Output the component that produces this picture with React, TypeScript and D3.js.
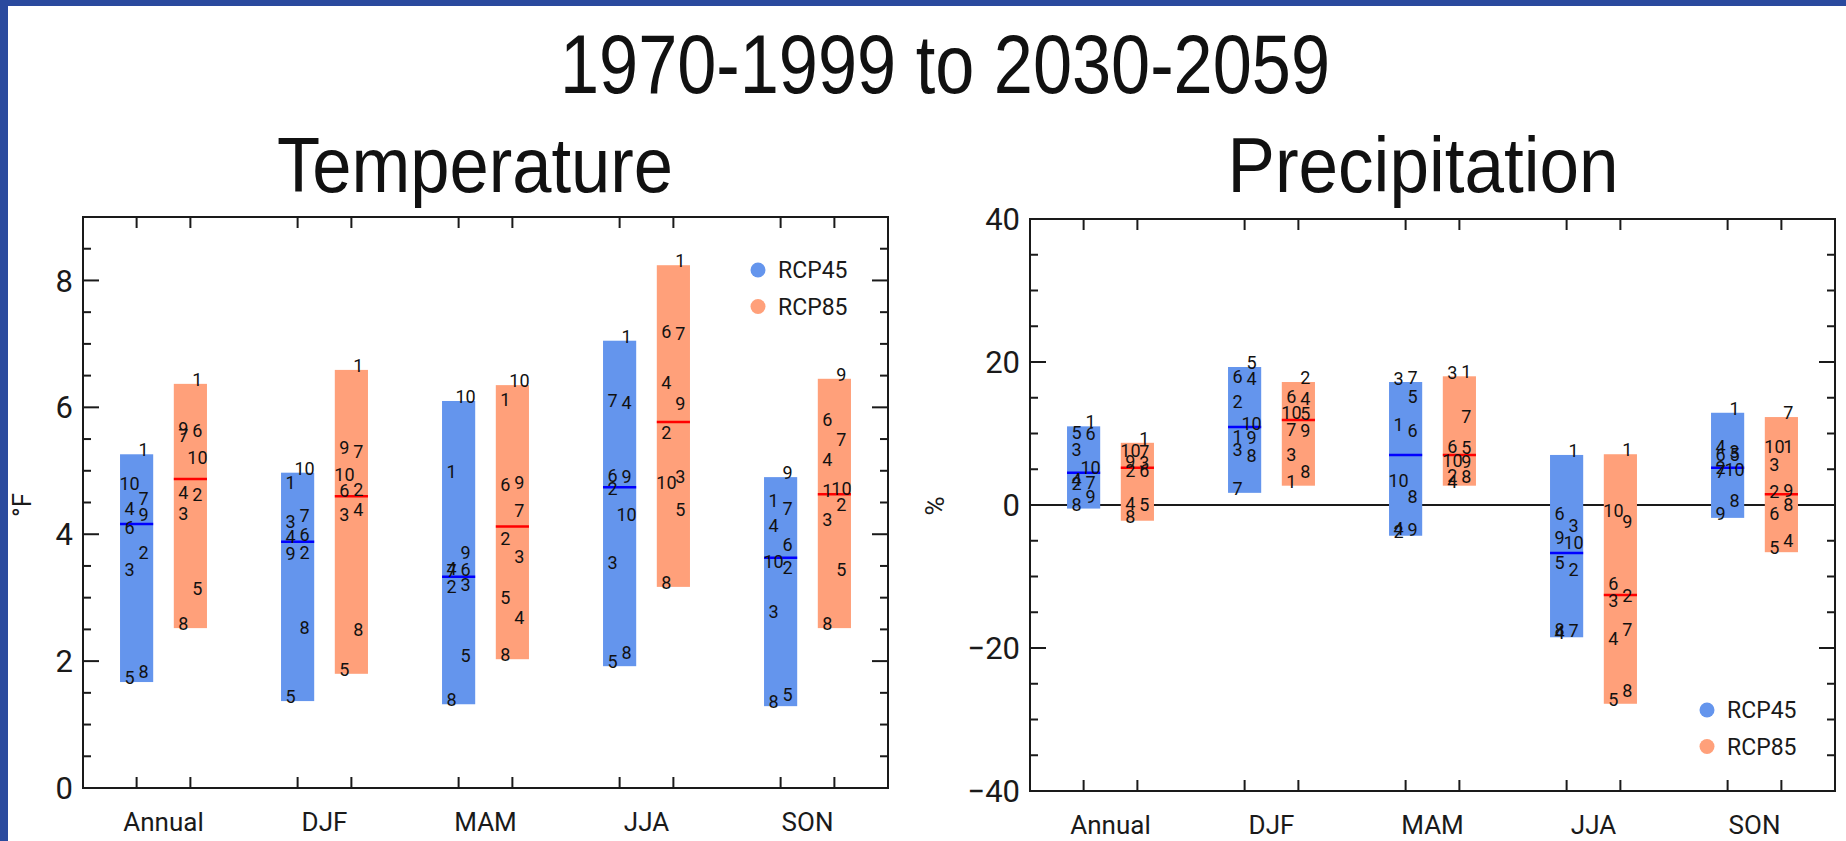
import React from 'react';
import * as d3 from 'd3';

const seasons = ['Annual', 'DJF', 'MAM', 'JJA', 'SON'];
const scenarios = ['RCP45', 'RCP85'];

// change per model (models 1..10), one row per season
const tempRcp45 = [
  [5.26, 3.64, 3.37, 4.34, 1.67, 4.04, 4.49, 1.77, 4.24, 4.73],
  [4.74, 3.64, 4.13, 3.90, 1.37, 3.92, 4.23, 2.46, 3.62, 4.97],
  [4.92, 3.11, 3.13, 3.39, 2.02, 3.37, 3.35, 1.32, 3.64, 6.10],
  [7.05, 4.65, 3.48, 6.01, 1.92, 4.86, 6.03, 2.06, 4.84, 4.24],
  [4.46, 3.40, 2.71, 4.07, 1.40, 3.77, 4.34, 1.29, 4.90, 3.50],
];
const tempRcp85 = [
  [6.37, 4.56, 4.26, 4.59, 3.07, 5.57, 5.49, 2.52, 5.60, 5.14],
  [6.59, 4.64, 4.24, 4.32, 1.80, 4.62, 5.23, 2.43, 5.30, 4.87],
  [6.05, 3.86, 3.58, 2.62, 2.93, 4.72, 4.30, 2.03, 4.74, 6.35],
  [8.24, 5.53, 4.84, 6.32, 4.32, 7.12, 7.10, 3.17, 5.99, 4.74],
  [4.62, 4.40, 4.16, 5.11, 3.37, 5.74, 5.42, 2.52, 6.45, 4.65],
];
const tempMean45 = [4.16, 3.88, 3.33, 4.74, 3.63];
const tempMean85 = [4.87, 4.60, 4.12, 5.77, 4.63];

const precRcp45 = [
  [11.0, 2.4, 7.1, 2.95, 9.5, 9.4, 2.5, -0.5, 0.6, 4.6],
  [9.0, 13.9, 7.1, 17.1, 19.3, 17.3, 1.7, 6.3, 8.8, 10.8],
  [10.6, -4.3, 17.0, -3.9, 14.6, 9.8, 17.2, 0.6, -4.0, 2.8],
  [7.0, -9.7, -3.5, -18.5, -8.7, -1.8, -18.2, -18.0, -5.2, -5.9],
  [12.9, 4.6, 6.8, 7.6, 6.4, 6.5, 4.0, 0.0, -1.8, 4.4],
];
const precRcp85 = [
  [8.7, 4.25, 5.3, -0.45, -0.5, 4.2, 6.9, -2.2, 5.4, 7.0],
  [2.7, 17.2, 6.4, 14.3, 12.1, 14.5, 10.0, 4.1, 9.8, 12.3],
  [18.0, 3.5, 17.9, 2.7, 7.4, 7.5, 11.7, 3.4, 5.5, 5.6],
  [7.1, -13.3, -14.0, -19.3, -27.8, -11.6, -18.0, -26.6, -3.0, -1.4],
  [7.5, 1.2, 5.0, -5.6, -6.6, -1.8, 12.3, -0.6, 1.4, 7.6],
];
const precMean45 = [4.5, 10.9, 7.0, -6.7, 5.2];
const precMean85 = [5.2, 11.9, 7.0, -12.6, 1.5];

const fill = ['#6495ed', '#ffa07a'];
const lineCol = ['#0000ff', '#ff0000'];
const ink = '#1a1a1a';
const font = 'Roboto, "DejaVu Sans", sans-serif';

const fmt = (v) => (v < 0 ? '\u2212' : '') + Math.abs(v);

function Panel({ left, right, top, bottom, domain, major, minor, runs, means, yTitle, titleX, titleY, legendX, legendY, zero }) {
  const x = d3.scaleLinear().domain([0.5, 5.5]).range([left, right]);
  const y = d3.scaleLinear().domain(domain).range([bottom, top]);
  const offs = [-0.167, 0.167];
  const half = 0.103;
  const bw = x(half) - x(0);
  const majors = d3.range(domain[0], domain[1] + 1e-9, major);
  const minors = d3.range(domain[0], domain[1] + 1e-9, minor).filter(v => !majors.some(m => Math.abs(m - v) < 1e-9));

  const bars = [];
  runs.forEach((run, s) => {
    run.forEach((vals, i) => {
      const cx = x(i + 1 + offs[s]);
      const lo = d3.min(vals), hi = d3.max(vals);
      // labels alternate right/left going down the bar
      const order = d3.range(vals.length).sort((a, b) => vals[b] - vals[a]);
      bars.push(
        <g key={s + '-' + i}>
          <rect x={cx - bw} y={y(hi)} width={bw * 2} height={y(lo) - y(hi)} fill={fill[s]} />
          <line x1={cx - bw} x2={cx + bw} y1={y(means[s][i])} y2={y(means[s][i])} stroke={lineCol[s]} strokeWidth={2.5} />
          {order.map((m, k) => (
            <text key={m} x={cx + (k % 2 === 0 ? 7 : -7)} y={y(vals[m]) + 2} textAnchor="middle"
              fontSize={18} fontFamily={font} fill="#111">{m + 1}</text>
          ))}
        </g>
      );
    });
  });

  const ticksX = [];
  seasons.forEach((_, i) => offs.forEach((o) => ticksX.push(x(i + 1 + o))));

  return (
    <g>
      {zero !== undefined && (
        <line x1={left} x2={right} y1={y(zero)} y2={y(zero)} stroke={ink} strokeWidth={2} />
      )}
      {bars}
      <rect x={left} y={top} width={right - left} height={bottom - top} fill="none" stroke={ink} strokeWidth={2} />
      {ticksX.map((tx, k) => (
        <g key={k}>
          <line x1={tx} x2={tx} y1={bottom} y2={bottom - 11} stroke={ink} strokeWidth={2} />
          <line x1={tx} x2={tx} y1={top} y2={top + 11} stroke={ink} strokeWidth={2} />
        </g>
      ))}
      {majors.map(v => (
        <g key={'M' + v}>
          <line x1={left} x2={left + 16} y1={y(v)} y2={y(v)} stroke={ink} strokeWidth={2} />
          <line x1={right} x2={right - 16} y1={y(v)} y2={y(v)} stroke={ink} strokeWidth={2} />
          <text x={left - 10} y={y(v)} dy="0.36em" textAnchor="end" fontSize={31} fontFamily={font} fill={ink}>{fmt(v)}</text>
        </g>
      ))}
      {minors.map(v => (
        <g key={'m' + v}>
          <line x1={left} x2={left + 8} y1={y(v)} y2={y(v)} stroke={ink} strokeWidth={2} />
          <line x1={right} x2={right - 8} y1={y(v)} y2={y(v)} stroke={ink} strokeWidth={2} />
        </g>
      ))}
      {seasons.map((name, i) => (
        <text key={name} x={x(i + 1)} y={bottom + 43} textAnchor="middle" fontSize={26} fontFamily={font} fill={ink}>{name}</text>
      ))}
      <text transform={`translate(${titleX},${titleY}) rotate(-90)`} textAnchor="middle" dy="0.36em"
        fontSize={26} fontFamily={font} fill={ink}>{yTitle}</text>
      {scenarios.map((name, s) => (
        <g key={name}>
          <circle cx={legendX} cy={legendY + s * 36.5} r={7.5} fill={fill[s]} />
          <text x={legendX + 20} y={legendY + s * 36.5} dy="0.36em" fontSize={23} fontFamily={font} fill={ink}>{name}</text>
        </g>
      ))}
    </g>
  );
}

export default function App() {
  const W = 1846, H = 841;
  const narrow = '"Liberation Sans Narrow", "Liberation Sans", Arial, sans-serif';
  return (
    <svg width={W} height={H} style={{ position: 'absolute', left: 0, top: 0, background: '#fff' }}>
      <rect x={0} y={0} width={W} height={H} fill="#fff" />
      <rect x={0} y={0} width={W} height={6} fill="#2a4a9e" />
      <rect x={0} y={0} width={8} height={H} fill="#2a4a9e" />
      <text x={945} y={93} textAnchor="middle" fontSize={84} textLength={770} lengthAdjust="spacingAndGlyphs"
        fontFamily={narrow} fill="#111">1970-1999 to 2030-2059</text>
      <text x={475} y={192} textAnchor="middle" fontSize={78} textLength={396} lengthAdjust="spacingAndGlyphs"
        fontFamily={narrow} fill="#111">Temperature</text>
      <text x={1423} y={192} textAnchor="middle" fontSize={78} textLength={391} lengthAdjust="spacingAndGlyphs"
        fontFamily={narrow} fill="#111">Precipitation</text>
      <Panel left={83} right={888} top={217} bottom={788} domain={[0, 9]} major={2} minor={0.5}
        runs={[tempRcp45, tempRcp85]} means={[tempMean45, tempMean85]} yTitle="°F" titleX={22} titleY={505}
        legendX={758} legendY={270} />
      <Panel left={1030} right={1835} top={219} bottom={791} domain={[-40, 40]} major={20} minor={5}
        runs={[precRcp45, precRcp85]} means={[precMean45, precMean85]} yTitle="%" titleX={935} titleY={506}
        legendX={1707} legendY={710} zero={0} />
    </svg>
  );
}
